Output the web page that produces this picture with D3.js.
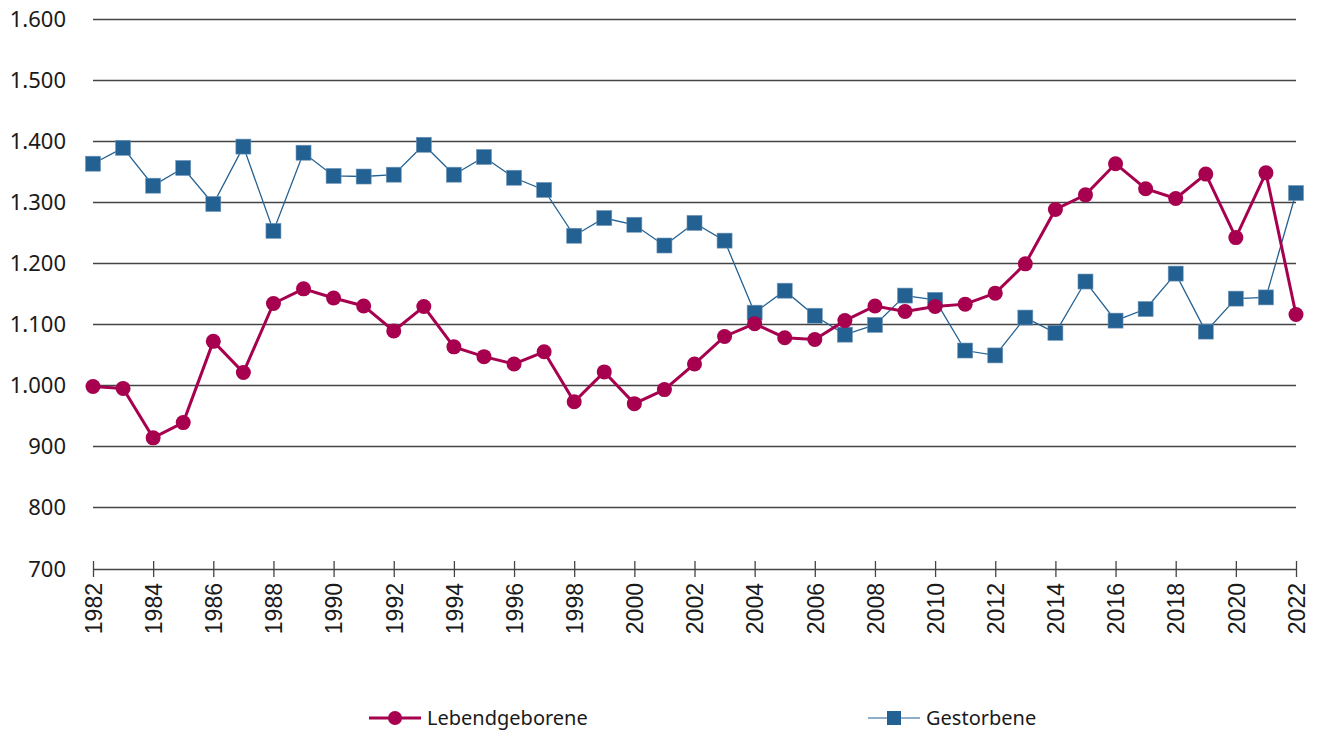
<!DOCTYPE html>
<html>
<head>
<meta charset="utf-8">
<script src="https://cdn.jsdelivr.net/npm/d3@7"></script>
<style>
  body { margin: 0; background: #fff; }
  svg { display: block; }
  .ylab { font-family: "Noto Sans", sans-serif; font-size: 22px; fill: #1a1a1a; }
  .xlab { font-family: "Liberation Sans", Arial, sans-serif; font-size: 23px; fill: #1a1a1a; }
  .leg { font-family: "Noto Sans", sans-serif; font-size: 20px; fill: #1a1a1a; }
</style>
</head>
<body>
<div id="chart"></div>
<script>
const years = d3.range(1982, 2023);
const lebendgeborene = [998, 995, 914, 939, 1072, 1021, 1134, 1158, 1143, 1130,
  1089, 1129, 1063, 1047, 1035, 1055, 973, 1022, 970, 993,
  1035, 1080, 1101, 1078, 1075, 1106, 1130, 1121, 1129, 1133,
  1151, 1199, 1288, 1312, 1363, 1322, 1306, 1346, 1242, 1348, 1116];
const gestorbene = [1363, 1389, 1327, 1356, 1297, 1391, 1253, 1381, 1343, 1342,
  1345, 1394, 1345, 1374, 1340, 1320, 1245, 1274, 1263, 1229,
  1266, 1237, 1119, 1155, 1114, 1083, 1099, 1147, 1140, 1057,
  1049, 1111, 1086, 1170, 1106, 1125, 1183, 1088, 1142, 1144, 1315];
const yTicks = [700, 800, 900, 1000, 1100, 1200, 1300, 1400, 1500, 1600];
const seriesNames = ['Lebendgeborene', 'Gestorbene'];

const width = 1319, height = 731;
const red = '#a6004f', blue = '#236192';

const svg = d3.select('#chart').append('svg')
  .attr('width', width).attr('height', height);

const x = d3.scaleLinear().domain([1982, 2022]).range([93, 1296]);
const y = d3.scaleLinear().domain([700, 1600]).range([568.5, 19]);
const fmt = d3.formatLocale({ decimal: ',', thousands: '.', grouping: [3], currency: ['', ''] }).format(',');

// gridlines
svg.append('g').selectAll('line')
  .data(yTicks.slice(1)).enter().append('line')
  .attr('x1', 93).attr('x2', 1296)
  .attr('y1', d => Math.round(y(d)) + 0.5).attr('y2', d => Math.round(y(d)) + 0.5)
  .attr('stroke', '#444').attr('stroke-width', 1.3);

svg.append('g').selectAll('text')
  .data(yTicks).enter().append('text')
  .attr('class', 'ylab')
  .attr('x', 66).attr('y', d => y(d) + 8)
  .attr('text-anchor', 'end')
  .text(d => fmt(d));

// x axis
const xAxis = d3.axisBottom(x)
  .tickValues(years.filter(d => d % 2 === 0))
  .tickFormat(d3.format('d'))
  .tickSize(8).tickSizeOuter(0);
const gx = svg.append('g').attr('transform', 'translate(0,569)').call(xAxis);
gx.select('.domain').attr('stroke', '#444').attr('stroke-width', 1.3);
gx.selectAll('.tick line').attr('stroke', '#444').attr('stroke-width', 1.3).attr('y1', -8);
gx.selectAll('.tick text')
  .attr('class', 'xlab')
  .attr('transform', 'rotate(-90)')
  .attr('x', -14).attr('y', 0).attr('dy', '0.36em')
  .attr('text-anchor', 'end')
  .attr('font-size', null).attr('font-family', null).attr('fill', null);
gx.attr('font-size', null).attr('font-family', null);

const line = d3.line().x((d, i) => x(years[i])).y(d => y(d));

// Gestorbene
svg.append('path').datum(gestorbene)
  .attr('d', line).attr('fill', 'none')
  .attr('stroke', blue).attr('stroke-width', 1.3);
svg.append('g').selectAll('rect')
  .data(gestorbene).enter().append('rect')
  .attr('x', (d, i) => x(years[i]) - 7.5).attr('y', d => y(d) - 7.5)
  .attr('width', 15).attr('height', 15)
  .attr('fill', blue).attr('stroke', '#6f95b8').attr('stroke-width', 0.6);

// Lebendgeborene
svg.append('path').datum(lebendgeborene)
  .attr('d', line).attr('fill', 'none')
  .attr('stroke', red).attr('stroke-width', 3);
svg.append('g').selectAll('circle')
  .data(lebendgeborene).enter().append('circle')
  .attr('cx', (d, i) => x(years[i])).attr('cy', d => y(d))
  .attr('r', 7.5).attr('fill', red);

// legend
const legend = svg.append('g').attr('transform', 'translate(0,718)');
const l1 = legend.append('g').attr('transform', 'translate(369,0)');
l1.append('line').attr('x1', 0).attr('x2', 52).attr('stroke', red).attr('stroke-width', 3);
l1.append('circle').attr('cx', 26).attr('r', 7).attr('fill', red);
l1.append('text').attr('class', 'leg').attr('x', 58).attr('y', 7).text(seriesNames[0]);

const l2 = legend.append('g').attr('transform', 'translate(868,0)');
l2.append('line').attr('x1', 0).attr('x2', 52).attr('stroke', '#8eafcb').attr('stroke-width', 2);
l2.append('rect').attr('x', 19).attr('y', -7).attr('width', 14).attr('height', 14).attr('fill', blue);
l2.append('text').attr('class', 'leg').attr('x', 58).attr('y', 7).text(seriesNames[1]);
</script>
</body>
</html>
